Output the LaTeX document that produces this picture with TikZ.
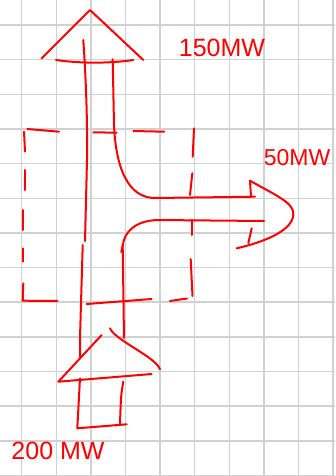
\documentclass[tikz,border=0pt]{standalone}
\usepackage{fontspec}
\setmainfont{Liberation Sans}
\begin{document}
\begin{tikzpicture}[x=1pt,y=-1pt,
  ink/.style={draw=red, line width=2pt, line cap=round, line join=round},
  gridline/.style={draw=black!18, line width=1.5pt},
  lbl/.style={text=red, inner sep=0pt, font=\fontsize{25}{25}\selectfont}]
\useasboundingbox (0,0) rectangle (335,476);
\fill[white] (0,0) rectangle (335,476);
% grid paper
\foreach \i in {0,...,9} \draw[gridline] ({21.7+34.6*\i},0) -- ({21.7+34.6*\i},476);
\foreach \j in {0,...,13} \draw[gridline] (0,{25+34.65*\j}) -- (335,{25+34.65*\j});

% top arrow head (150 MW)
\draw[ink] (41.7,58.3) -- (90,10) -- (143.3,60);
\draw[ink] (56,60) .. controls (80,63.5) and (110,63.5) .. (133.3,60);
% left stem
\draw[ink] (83.3,40) .. controls (86,80) and (87.5,120) .. (87,160) -- (85,241);
\draw[ink] (82.7,245) -- (80,338) -- (80,357);
% right stem of top flow bending into upper edge of 50 MW flow
\draw[ink] (112.7,59.3) -- (114,125) .. controls (116,172) and (130,198) .. (155,198) -- (255,196.7);
% 50 MW arrow head
\draw[ink] (250,181) -- (251,196.5);
\draw[ink] (250,180.7) .. controls (275,195) and (295,203) .. (293.3,215)
  .. controls (292,232) and (260,243) .. (236.7,248.3);
\draw[ink] (251.7,228.3) -- (248.3,243.3);
% lower edge of 50 MW flow bending into the input stem
\draw[ink] (264,221) -- (157,220) .. controls (135,221) and (124,232) .. (122.7,246) -- (124,338);
\draw[ink] (121.3,252) -- (122.7,245.5);

% bottom arrow (200 MW input)
\draw[ink] (101.7,335) -- (58.3,381.7) -- (151.7,374);
\draw[ink] (110,328.3) .. controls (113,335) and (125,342) .. (140,351.7)
  .. controls (150,358) and (158,364) .. (160,369.3);
\draw[ink] (80,378.3) -- (77.3,428.3) -- (126.7,424.3);
\draw[ink] (123.3,381.7) .. controls (121,395) .. (120,423.3);

% dashed system boundary (hand drawn)
\draw[ink] (24,131.7) -- (25,151.7);
\draw[ink] (25,170) -- (25,190);
\draw[ink] (23.3,210) -- (23.3,230);
\draw[ink] (22.7,248.3) -- (22.7,261.7);
\draw[ink] (23.3,283.3) -- (22.7,300.7) -- (57.3,301);
\draw[ink] (27.3,129) -- (59,131.7);
\draw[ink] (93.3,132.3) -- (116.7,132.7);
\draw[ink] (133.3,131) -- (164.3,131.7);
\draw[ink] (194,128.3) -- (192.7,156.7);
\draw[ink] (192.3,173.3) -- (190,195);
\draw[ink] (191.7,220) -- (191.7,235);
\draw[ink] (190.7,259) -- (192.5,296);
\draw[ink] (170,301) -- (187,298.5);
\draw[ink] (86.7,304) -- (151.7,299);

% labels
\node[lbl] (t150) at (222,48) {150MW};
\node[lbl, font=\fontsize{23}{23}\selectfont] (t50) at (297,158) {50MW};
\node[lbl] (t200) at (58,451) {200 MW};
\end{tikzpicture}
\end{document}
